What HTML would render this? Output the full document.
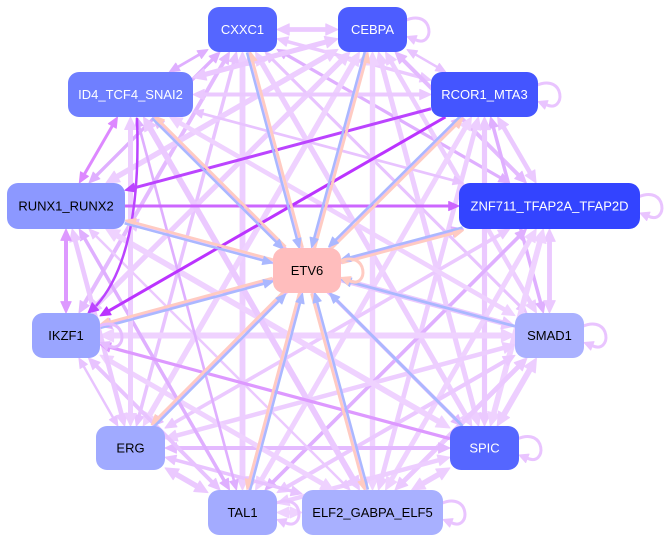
<!DOCTYPE html>
<html><head><meta charset="utf-8">
<style>
html,body{margin:0;padding:0;background:#fff;}
svg{display:block;}
text{font-family:"Liberation Sans",Arial,sans-serif;font-size:13px;}
</style></head>
<body>
<svg id="s" width="671" height="542" viewBox="0 0 671 542" xmlns="http://www.w3.org/2000/svg">
<rect width="671" height="542" fill="#fff"/>
<g id="edges"></g>
<g id="nodes">
 <rect x="208" y="7" width="69" height="45" rx="11" fill="#5566ff"/>
 <text x="242.5" y="34" text-anchor="middle" fill="#fff">CXXC1</text>
 <rect x="338" y="7" width="69" height="45" rx="11" fill="#4d5dff"/>
 <text x="372.5" y="34" text-anchor="middle" fill="#fff">CEBPA</text>
 <rect x="68" y="72" width="125" height="45" rx="11" fill="#6f7fff"/>
 <text x="130.5" y="99" text-anchor="middle" fill="#fff">ID4_TCF4_SNAI2</text>
 <rect x="431" y="72" width="107" height="45" rx="11" fill="#4455ff"/>
 <text x="484.5" y="99" text-anchor="middle" fill="#fff">RCOR1_MTA3</text>
 <rect x="7" y="183" width="118" height="46" rx="11" fill="#8c98ff"/>
 <text x="66" y="210.5" text-anchor="middle" fill="#000">RUNX1_RUNX2</text>
 <rect x="459" y="183" width="181" height="46" rx="11" fill="#3344ff"/>
 <text x="549.5" y="210.5" text-anchor="middle" fill="#fff">ZNF711_TFAP2A_TFAP2D</text>
 <rect x="273" y="248" width="68" height="45" rx="11" fill="#ffbdbd"/>
 <text x="307" y="275" text-anchor="middle" fill="#000">ETV6</text>
 <rect x="32" y="313" width="68" height="45" rx="11" fill="#9aa5ff"/>
 <text x="66" y="340" text-anchor="middle" fill="#000">IKZF1</text>
 <rect x="515" y="313" width="69" height="45" rx="11" fill="#aab1ff"/>
 <text x="549.5" y="340" text-anchor="middle" fill="#000">SMAD1</text>
 <rect x="96" y="426" width="69" height="44" rx="11" fill="#a0aaff"/>
 <text x="130.5" y="452.5" text-anchor="middle" fill="#000">ERG</text>
 <rect x="450" y="426" width="69" height="44" rx="11" fill="#5566ff"/>
 <text x="484.5" y="452.5" text-anchor="middle" fill="#fff">SPIC</text>
 <rect x="208" y="490" width="69" height="45" rx="11" fill="#a3abff"/>
 <text x="242.5" y="517" text-anchor="middle" fill="#000">TAL1</text>
 <rect x="302" y="490" width="141" height="45" rx="11" fill="#a8b0ff"/>
 <text x="372.5" y="517" text-anchor="middle" fill="#000">ELF2_GABPA_ELF5</text>
</g>
</svg>
<script>
(function(){
const NS="http://www.w3.org/2000/svg";
const N={
CXXC1:[242.5,29.5,34.5,22.5],
CEBPA:[372.5,29.5,34.5,22.5],
ID4:[130.5,94.5,62.5,22.5],
RCOR1:[484.5,94.5,53.5,22.5],
RUNX1:[66,206,59,23],
ZNF711:[549.5,206,90.5,23],
ETV6:[307,270.5,34,22.5],
IKZF1:[66,335.5,34,22.5],
SMAD1:[549.5,335.5,34.5,22.5],
ERG:[130.5,448,34.5,22],
SPIC:[484.5,448,34.5,22],
TAL1:[242.5,512.5,34.5,22.5],
ELF2:[372.5,512.5,70.5,22.5]};
const G=document.getElementById('edges');
function el(tag,a){const e=document.createElementNS(NS,tag);for(const k in a)e.setAttribute(k,a[k]);return e;}
function bp(n,ux,uy){const [cx,cy,hw,hh]=N[n];
 const t=Math.min(ux?hw/Math.abs(ux):1e9, uy?hh/Math.abs(uy):1e9);
 return [cx+ux*t, cy+uy*t];}
function arrow(tx,ty,ux,uy,len,half,col){
 const bx=tx-ux*len, by=ty-uy*len, px=-uy, py=ux;
 G.appendChild(el('polygon',{points:`${tx},${ty} ${bx+px*half},${by+py*half} ${bx-px*half},${by-py*half}`,fill:col,stroke:col,'stroke-width':1,'stroke-linejoin':'round'}));
}
function edge(a,b,w,col,o){
 o=o||{};
 const A=N[a],B=N[b];
 const dx=B[0]-A[0],dy=B[1]-A[1],L=Math.hypot(dx,dy),ux=dx/L,uy=dy/L;
 let p=bp(a,ux,uy), q=bp(b,-ux,-uy);
 const off=o.off||0, px=-uy*off, py=ux*off;
 p=[p[0]+px,p[1]+py]; q=[q[0]+px,q[1]+py];
 const len=7+w*1.1, half=2.6+w*0.65;
 const endA = o.end!==false, startA=!!o.start;
 const x1=p[0]+(startA?ux*len*0.85:0), y1=p[1]+(startA?uy*len*0.85:0);
 const x2=q[0]-(endA?ux*len*0.85:0), y2=q[1]-(endA?uy*len*0.85:0);
 G.appendChild(el('line',{x1:x1,y1:y1,x2:x2,y2:y2,stroke:col,'stroke-width':w}));
 if(endA) arrow(q[0],q[1],ux,uy,len,half,col);
 if(startA) arrow(p[0],p[1],-ux,-uy,len,half,col);
}
let s=11;function rnd(){s=(s*9301+49297)%233280;return s/233280;}
const O=['CXXC1','CEBPA','RCOR1','ZNF711','SMAD1','SPIC','ELF2','TAL1','ERG','IKZF1','RUNX1','ID4'];
const special={
 'RCOR1-RUNX1':1,'RCOR1-IKZF1':1,'ZNF711-RUNX1':1,'IKZF1-RUNX1':1,'RUNX1-ID4':1,'SPIC-IKZF1':1,'IKZF1-ID4':1
};
const cols=['#efd2ff','#edceff','#ebc9ff','#e8c3ff','#e4baff','#dfafff'];
for(let i=0;i<O.length;i++)for(let j=i+1;j<O.length;j++){
 const k=O[i]+'-'+O[j];
 const r=rnd(), r2=rnd();
 if(special[k]) continue;
 const w=2.4+r*3.6;
 const col = w>4.3 ? cols[Math.floor(r2*3)] : cols[2+Math.floor(r2*4)];
 edge(O[i],O[j],w,col,{start:true,end:true});
}
edge('IKZF1','RUNX1',4,'#dd99ff',{start:true,end:true});
edge('RUNX1','ID4',3,'#dd88ff',{start:true,end:true});
edge('SPIC','IKZF1',3.2,'#dd99ff');
edge('RUNX1','ZNF711',3,'#cc66ff');
edge('RCOR1','RUNX1',3,'#bb44ff');
edge('RCOR1','IKZF1',3,'#bb33ff');
G.appendChild(el('path',{d:'M137,118 Q142,255 96,306',fill:'none',stroke:'#bb44ff','stroke-width':2.5}));
arrow(88,313,-0.75,0.66,10,5,'#bb44ff');
const both=['CXXC1','CEBPA','ID4','RCOR1','RUNX1','ZNF711','IKZF1','ERG','TAL1','ELF2'];
both.forEach(n=>{
 edge('ETV6',n,2.8,'#ffcbc2',{off:1.6});
 edge(n,'ETV6',2.5,'#aab8ff',{off:1.6});
});
edge('SMAD1','ETV6',2.8,'#aab8ff');
edge('SPIC','ETV6',2.8,'#aab8ff');
function loop(rx,cy,col){
 G.appendChild(el('path',{d:`M${rx-2},${cy-9} C${rx+28},${cy-22} ${rx+28},${cy+20} ${rx+8},${cy+10}`,fill:'none',stroke:col,'stroke-width':3}));
 arrow(rx,cy+7,-0.93,-0.37,9,4.5,col);
}
loop(407,29.5,'#e9c4ff');
loop(538,94.5,'#e9c4ff');
loop(640,206,'#e9c4ff');
loop(584,335.5,'#e9c4ff');
loop(519,448,'#e9c4ff');
loop(443,512.5,'#e9c4ff');
loop(277,512.5,'#e9c4ff');
loop(100,335.5,'#e6bdff');
loop(341,270.5,'#ffcbc2');
})();
</script>
</body></html>
